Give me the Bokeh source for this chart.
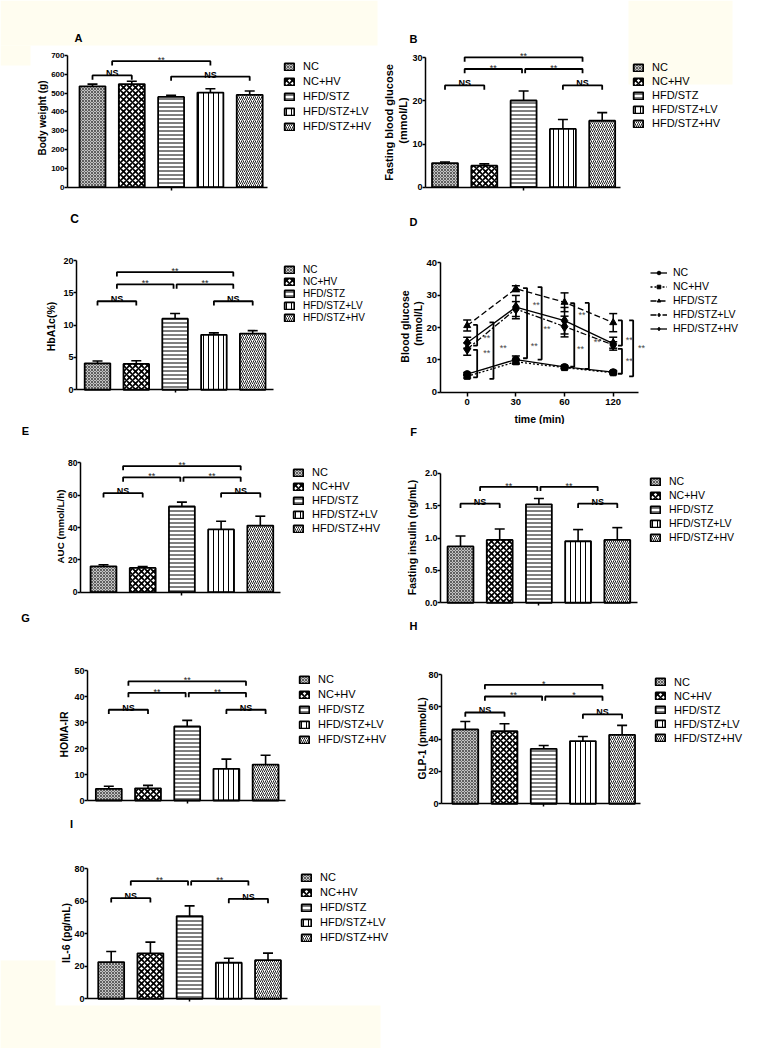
import math
from bokeh.plotting import figure
from bokeh.models import Range1d, LinearAxis, FixedTicker, Label, NumeralTickFormatter, BoxAnnotation
from bokeh.layouts import column, row
from bokeh.embed import file_html
from bokeh.resources import INLINE
from bokeh.core.properties import value

FONT = "Liberation Sans"
CREAM = "#fffdf0"

# ---------------- data ----------------
groups = ["NC", "NC+HV", "HFD/STZ", "HFD/STZ+LV", "HFD/STZ+HV"]

bw_mean = [536, 548, 480, 503, 491]
bw_err = [12, 15, 8, 20, 20]

fbg_mean = [5.6, 5.0, 20.1, 13.5, 15.4]
fbg_err = [0.25, 0.4, 2.2, 2.2, 1.9]

hba1c_mean = [4.1, 4.0, 11.0, 8.5, 8.7]
hba1c_err = [0.35, 0.5, 0.8, 0.3, 0.45]

ogtt_times = ["0", "30", "60", "120"]
ogtt_nc = [5.6, 10.1, 7.8, 6.2]
ogtt_nc_err = [0.5, 1.1, 0.4, 0.4]
ogtt_nchv = [4.9, 9.4, 7.6, 6.0]
ogtt_nchv_err = [0.5, 0.7, 0.4, 0.4]
ogtt_hfd = [20.6, 32.0, 27.8, 21.5]
ogtt_hfd_err = [1.7, 0.9, 2.9, 2.8]
ogtt_lv = [13.3, 25.7, 20.3, 14.6]
ogtt_lv_err = [1.9, 2.3, 3.2, 1.0]
ogtt_hv = [15.3, 26.3, 22.1, 15.0]
ogtt_hv_err = [1.7, 3.6, 4.1, 2.0]

auc_mean = [16.0, 15.0, 53.0, 38.8, 41.2]
auc_err = [1.0, 0.9, 2.7, 5.1, 5.8]

ins_mean = [0.87, 0.97, 1.52, 0.95, 0.97]
ins_err = [0.16, 0.17, 0.09, 0.18, 0.19]

homa_mean = [4.5, 4.7, 28.5, 12.2, 13.8]
homa_err = [1.0, 1.1, 2.3, 3.7, 3.6]

glp_mean = [46.0, 44.9, 34.0, 38.8, 42.7]
glp_err = [4.9, 4.6, 2.1, 2.8, 5.8]

il6_mean = [22.6, 28.0, 50.9, 22.2, 23.8]
il6_err = [6.5, 6.9, 6.3, 2.8, 4.3]

# significance brackets: (from group, to group, level, text)
bw_sig = [(1, 2, 594, "NS"), (1.5, 4, 670, "**"), (3, 5, 588, "NS")]
fbg_sig = [(1, 2, 23.6, "NS"), (1.5, 2.96, 27.4, "**"), (3.04, 4.5, 27.4, "**"),
           (1.5, 4.5, 30.1, "**"), (4, 5, 23.6, "NS")]
hba1c_sig = [(1, 2, 13.7, "NS"), (1.5, 2.96, 16.3, "**"), (3.04, 4.5, 16.3, "**"),
             (1.5, 4.5, 18.2, "**"), (4, 5, 13.7, "NS")]
auc_sig = [(1, 2, 61.2, "NS"), (1.5, 2.96, 71, "**"), (3.04, 4.5, 71, "**"),
           (1.5, 4.5, 78, "**"), (4, 5, 61.2, "NS")]
ins_sig = [(1, 2, 1.53, "NS"), (1.5, 2.96, 1.79, "**"), (3.04, 4.5, 1.79, "**"),
           (4, 5, 1.53, "NS")]
homa_sig = [(1, 2, 34.9, "NS"), (1.5, 2.96, 41.4, "**"), (3.04, 4.5, 41.4, "**"),
            (1.5, 4.5, 45.8, "**"), (4, 5, 34.9, "NS")]
glp_sig = [(1, 2, 56.5, "NS"), (1.5, 2.96, 66.4, "**"), (3.04, 4.5, 66.4, "*"),
           (1.5, 4.5, 73.6, "*"), (4, 5, 55.3, "NS")]
il6_sig = [(1, 2, 61.9, "NS"), (1.5, 2.96, 72.4, "**"), (3.04, 4.5, 72.4, "**"),
           (4, 5, 61.5, "NS")]

# OGTT vertical brackets: (time position, upper, lower) and star labels (time position, level)
ogtt_brackets = [(0.205, 20.8, 14.4), (0.205, 13.1, 4.6), (0.54, 21.6, 4.1),
                 (1.23, 32.2, 10.5), (1.53, 32.5, 10.1),
                 (2.2, 27.5, 7.9), (2.5, 27.6, 7.2),
                 (3.18, 22.2, 14.4), (3.18, 13.4, 5.7), (3.41, 22.2, 4.9)]
ogtt_stars = [(0.4, 16.8), (0.4, 12.0), (0.74, 13.8),
              (1.42, 27.1), (1.64, 19.6), (1.38, 14.3),
              (2.36, 24.0), (2.33, 13.5), (2.67, 15.6),
              (3.33, 16.1), (3.33, 9.7), (3.58, 13.8)]

# ---------------- styles ----------------
BAR_STYLES = [
    dict(fill_color="#c4c4c4", hatch_pattern="diagonal_cross", hatch_scale=3,
         hatch_weight=0.7, hatch_color="#333333"),
    dict(fill_color="white", hatch_pattern="diagonal_cross", hatch_scale=6,
         hatch_weight=1.7, hatch_color="black"),
    dict(fill_color="white", hatch_pattern="horizontal_line", hatch_scale=4,
         hatch_weight=1.0, hatch_color="black"),
    dict(fill_color="white", hatch_pattern="vertical_line", hatch_scale=5,
         hatch_weight=1.0, hatch_color="black"),
    dict(fill_color="white", hatch_pattern="right_diagonal_line", hatch_scale=4,
         hatch_weight=1.0, hatch_color="#222222"),
]


def style_axis(ax, tick_fs):
    ax.axis_line_width = 1.5
    ax.axis_line_color = "black"
    ax.major_tick_line_width = 1.5
    ax.major_tick_line_color = "black"
    ax.major_tick_out = 3
    ax.major_tick_in = 0
    ax.minor_tick_out = 0
    ax.minor_tick_in = 0
    ax.major_label_text_font = FONT
    ax.major_label_text_font_size = tick_fs
    ax.major_label_text_font_style = "bold"
    ax.major_label_text_color = "black"
    ax.major_label_standoff = 0
    ax.axis_label_text_font = FONT
    ax.axis_label_text_font_style = "bold"
    ax.axis_label_text_color = "black"


def base_figure(fig, xgeo, ygeo, cream=()):
    fx0, fy0, fw, fh = fig
    xl, xr, b1, sp, first = xgeo
    y0, ytop, yv = ygeo
    cx = lambda px: first + (px - b1) / sp
    vy = lambda py: yv * (y0 - py) / (y0 - ytop)
    p = figure(width=fw, height=fh,
               x_range=Range1d(cx(fx0), cx(fx0 + fw)),
               y_range=Range1d(vy(fy0 + fh), vy(fy0)),
               x_axis_type=None, y_axis_type=None,
               output_backend="svg", toolbar_location=None, min_border=0)
    p.outline_line_color = None
    p.background_fill_color = "white"
    p.border_fill_color = "white"
    for (a, b, c, d) in cream:
        p.add_layout(BoxAnnotation(left=cx(a), right=cx(b), top=vy(c), bottom=vy(d),
                                   fill_color=CREAM, fill_alpha=1, line_color=None,
                                   level="underlay"))
    return p, cx, vy


def add_text_labels(p, cx, vy, letter, lpos, letter_fs, ylabels, ylabel_fs):
    p.add_layout(Label(x=cx(lpos[0]), y=vy(lpos[1]), text=letter, text_align="center",
                       text_baseline="middle", text_font=FONT, text_font_size=letter_fs,
                       text_font_style="bold", text_color="black"))
    for txt, px, py in ylabels:
        p.add_layout(Label(x=cx(px), y=vy(py), text=txt, angle=math.pi / 2,
                           text_align="center", text_baseline="middle", text_font=FONT,
                           text_font_size=ylabel_fs, text_font_style="bold",
                           text_color="black"))


def setup_legend(p, fig, leg, fs, gw, gh, ih, spacing, standoff):
    fx0, fy0, fw, fh = fig
    lx, c1 = leg
    lg = p.legend[0]
    lg.label_text_font = FONT
    lg.label_text_font_size = fs
    lg.label_text_color = "black"
    lg.glyph_width = gw
    lg.glyph_height = gh
    lg.label_height = ih
    lg.spacing = spacing
    lg.label_standoff = standoff
    lg.padding = 0
    lg.margin = 0
    lg.border_line_color = None
    lg.background_fill_alpha = 0
    top = c1 - ih / 2
    bottom = top + 5 * ih + 4 * spacing
    lg.location = (lx - fx0, (fy0 + fh) - bottom)


def bar_panel(fig, xgeo, ygeo, step, means, errs, sig, letter, lpos, ylabels, leg,
              tick_fs="9px", ylabel_fs="10.5px", leg_fs="11px", ih=13, spacing=2,
              fmt=None, letter_fs="11px", cream=()):
    p, cx, vy = base_figure(fig, xgeo, ygeo, cream)
    y0, ytop, yv = ygeo
    sp = xgeo[3]
    upx = yv / (y0 - ytop)  # data units per pixel (vertical)
    xs = [i + 1 for i in range(len(groups))]
    for i, g in enumerate(groups):
        p.vbar(x=[xs[i]], top=[means[i]], bottom=0, width=0.66, line_color="black",
               line_width=1.8, legend_label=g, **BAR_STYLES[i])
    tops = [m + e for m, e in zip(means, errs)]
    cw = 5.0 / sp
    p.segment(x0=xs, y0=means, x1=xs, y1=tops, line_color="black", line_width=1.6)
    p.segment(x0=[x - cw for x in xs], y0=tops, x1=[x + cw for x in xs], y1=tops,
              line_color="black", line_width=1.6)
    tick = 4.3 * upx
    bxs = [[a, a, b, b] for a, b, lvl, t in sig]
    bys = [[lvl - tick, lvl, lvl, lvl - tick] for a, b, lvl, t in sig]
    p.multi_line(xs=bxs, ys=bys, line_color="black", line_width=1.8)
    ns = [s for s in sig if s[3] == "NS"]
    st = [s for s in sig if s[3] != "NS"]
    p.text(x=[(a + b) / 2 for a, b, l, t in ns], y=[l + 2 * upx for a, b, l, t in ns],
           text=[t for a, b, l, t in ns], text_align="center", text_baseline="alphabetic",
           text_font=value(FONT), text_font_size="9px", text_font_style="bold",
           text_color="black")
    p.text(x=[(a + b) / 2 for a, b, l, t in st], y=[l + 1 * upx for a, b, l, t in st],
           text=[t for a, b, l, t in st], text_align="center", text_baseline="alphabetic",
           text_font=value(FONT), text_font_size="9px", text_color="#222222")
    xl, xr = xgeo[0], xgeo[1]
    ticks = []
    v = 0.0
    while v <= yv + 1e-9:
        ticks.append(round(v, 6))
        v += step
    ya = LinearAxis(fixed_location=cx(xl), bounds=(0, yv), ticker=FixedTicker(ticks=ticks))
    if fmt:
        ya.formatter = NumeralTickFormatter(format=fmt)
    style_axis(ya, tick_fs)
    p.add_layout(ya, "left")
    xa = LinearAxis(fixed_location=0, bounds=(cx(xl), cx(xr)), ticker=FixedTicker(ticks=[3]),
                    major_label_overrides={3: ""})
    style_axis(xa, tick_fs)
    p.add_layout(xa, "below")
    add_text_labels(p, cx, vy, letter, lpos, letter_fs, ylabels, ylabel_fs)
    setup_legend(p, fig, leg, leg_fs, 12, 9, ih, spacing, 8)
    return p


def ogtt_panel():
    fig = (380, 200, 384, 224)
    xgeo = (439.5, 638, 466.7, 48.67, 0)
    ygeo = (391.7, 262.3, 40)
    p, cx, vy = base_figure(fig, xgeo, ygeo)
    xs = list(range(len(ogtt_times)))
    series = [
        ("NC", ogtt_nc, ogtt_nc_err, "solid", "circle", 7),
        ("NC+HV", ogtt_nchv, ogtt_nchv_err, "2 2", "square", 6),
        ("HFD/STZ", ogtt_hfd, ogtt_hfd_err, "6 3", "triangle", 7),
        ("HFD/STZ+LV", ogtt_lv, ogtt_lv_err, "6 2 2 2", "diamond", 10),
        ("HFD/STZ+HV", ogtt_hv, ogtt_hv_err, "solid", "diamond", 10),
    ]
    cw = 4.0 / 48.67
    for name, m, e, dash, marker, size in series:
        lo = [a - b for a, b in zip(m, e)]
        hi = [a + b for a, b in zip(m, e)]
        p.segment(x0=xs, y0=lo, x1=xs, y1=hi, line_color="black", line_width=1.5)
        p.segment(x0=[x - cw for x in xs], y0=hi, x1=[x + cw for x in xs], y1=hi,
                  line_color="black", line_width=1.5)
        p.segment(x0=[x - cw for x in xs], y0=lo, x1=[x + cw for x in xs], y1=lo,
                  line_color="black", line_width=1.5)
        p.line(x=xs, y=m, line_color="black", line_width=1.3, line_dash=dash, legend_label=name)
        p.scatter(x=xs, y=m, marker=marker, size=size, fill_color="black", line_color="black",
                  legend_label=name)
    tk = 4.0 / 48.67
    bxs = [[x - tk, x, x, x - tk] for x, a, b in ogtt_brackets]
    bys = [[a, a, b, b] for x, a, b in ogtt_brackets]
    p.multi_line(xs=bxs, ys=bys, line_color="black", line_width=1.8)
    p.text(x=[x for x, y in ogtt_stars], y=[y for x, y in ogtt_stars],
           text=["**"] * len(ogtt_stars), text_align="center", text_baseline="middle",
           text_font=value(FONT), text_font_size="9px", text_color="#444444")
    ya = LinearAxis(fixed_location=cx(439.5), bounds=(0, 40),
                    ticker=FixedTicker(ticks=[0, 10, 20, 30, 40]))
    style_axis(ya, "9.5px")
    p.add_layout(ya, "left")
    xa = LinearAxis(fixed_location=0, bounds=(cx(439.5), cx(638)),
                    ticker=FixedTicker(ticks=xs),
                    major_label_overrides={i: t for i, t in enumerate(ogtt_times)},
                    axis_label="time (min)")
    style_axis(xa, "9.5px")
    xa.major_tick_out = 4
    xa.axis_label_text_font_size = "10.5px"
    xa.major_label_standoff = 3
    xa.axis_label_standoff = 4
    p.add_layout(xa, "below")
    add_text_labels(p, cx, vy, "D", (413, 221), "11px",
                    [("Blood glucose", 404, 326), ("(mmol/L)", 417, 323)], "10.5px")
    setup_legend(p, fig, (650, 272), "10.5px", 17, 9, 12, 2, 6)
    return p


pA = bar_panel((0, 0, 380, 200), (67, 267, 92, 39.3, 1), (186.7, 55, 700), 100,
               bw_mean, bw_err, bw_sig, "A", (78, 37), [("Body weight (g)", 42, 117.5)],
               (283, 66), tick_fs="8px", ylabel_fs="10px", ih=13, spacing=2,
               cream=[(0, 377, 0, 45), (0, 30, 45, 65)])
pB = bar_panel((380, 0, 384, 200), (425, 620, 444.5, 39.3, 1), (186.7, 57.3, 30), 10,
               fbg_mean, fbg_err, fbg_sig, "B", (413, 38),
               [("Fasting blood glucose", 388.5, 122), ("(mmol/L)", 402, 120)],
               (632, 67), ylabel_fs="11px", ih=12, spacing=2,
               cream=[(628, 732, 0, 84)])
pC = bar_panel((0, 200, 380, 224), (76, 273, 97, 38.8, 1), (389.3, 260, 20), 5,
               hba1c_mean, hba1c_err, hba1c_sig, "C", (74, 218), [("HbA1c(%)", 50, 326)],
               (283, 269), leg_fs="10px", ih=11, spacing=1, letter_fs="12px")
pD = ogtt_panel()
pE = bar_panel((0, 424, 392, 184), (80, 280, 103, 39.2, 1), (591.7, 462.3, 80), 20,
               auc_mean, auc_err, auc_sig, "E", (25, 430), [("AUC (mmol/L/h)", 60, 526)],
               (292, 472.3), tick_fs="8.5px", ylabel_fs="9.8px", leg_fs="11px", ih=12,
               spacing=2)
pF = bar_panel((392, 424, 372, 184), (440, 637, 460, 39.2, 1), (602.3, 472.7, 2.0), 0.5,
               ins_mean, ins_err, ins_sig, "F", (413, 431),
               [("Fasting insulin (ng/mL)", 411.7, 537)],
               (649, 481), leg_fs="10.5px", ih=12, spacing=2, fmt="0.0")
pG = bar_panel((0, 608, 392, 210), (87, 285, 108.3, 39.2, 1), (800, 670, 50), 10,
               homa_mean, homa_err, homa_sig, "G", (25, 617.7), [("HOMA-IR", 63.3, 734)],
               (298, 679.3), ih=13, spacing=2)
pH = bar_panel((392, 608, 372, 210), (441, 640, 464.8, 39.2, 1), (803.3, 674, 80), 20,
               glp_mean, glp_err, glp_sig, "H", (413, 625), [("GLP-1 (pmmol/L)", 421.7, 738)],
               (654, 681.7), ylabel_fs="10.2px", ih=12, spacing=2)
pI = bar_panel((0, 818, 764, 230), (87, 287, 110.7, 39.2, 1), (998.3, 868.3, 80), 20,
               il6_mean, il6_err, il6_sig, "I", (71, 823), [("IL-6 (pg/mL)", 65.7, 932.5)],
               (300, 877.3), ih=13, spacing=2,
               cream=[(0, 55, 960, 1048), (0, 380, 1005, 1048)])

layout = column(row(pA, pB), row(pC, pD), row(pE, pF), row(pG, pH), row(pI))
open("out.html", "w").write(file_html(layout, INLINE))
